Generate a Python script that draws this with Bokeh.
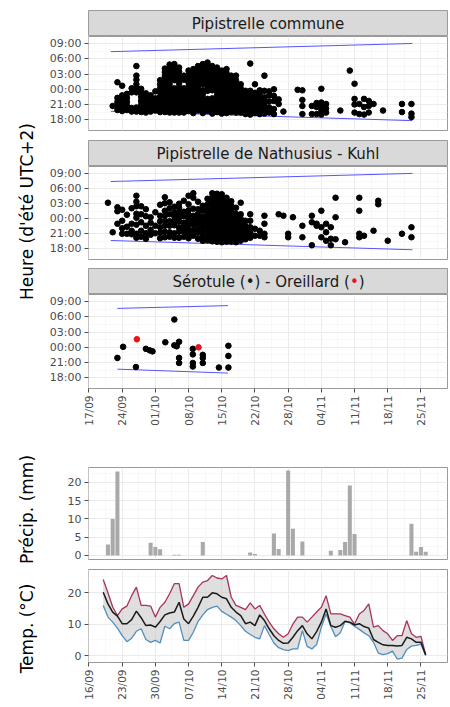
import math
from bokeh.plotting import figure
from bokeh.models import Range1d, FixedTicker, Grid
from bokeh.layouts import column, row
from bokeh.embed import file_html
from bokeh.resources import INLINE
from bokeh.core.properties import value

# ---------------- data ----------------
tick_days = [0, 7, 14, 21, 28, 35, 42, 49, 56, 63, 70]
top_tick_labels = ["17/09", "24/09", "01/10", "08/10", "15/10", "22/10",
                   "28/10", "04/11", "11/11", "18/11", "25/11"]
bottom_tick_labels = ["16/09", "23/09", "30/09", "07/10", "14/10", "21/10",
                      "28/10", "04/11", "11/11", "18/11", "25/11"]
hour_ticks = [18, 21, 24, 27, 30, 33]
hour_labels = ["18:00", "21:00", "00:00", "03:00", "06:00", "09:00"]

strip_titles = ["Pipistrelle commune", "Pipistrelle de Nathusius - Kuhl"]
strip3_parts = ["Sérotule (•) - Oreillard (", "•", ")"]
y_titles = ["Heure (d'été UTC+2)", "Précip. (mm)", "Temp. (°C)"]

# sunset / sunrise (hours, 24 = midnight)
sun_days = [4.6, 68.2]
sunset_h = [19.65, 17.8]
sunrise_h = [31.45, 33.07]
sun_days_p3 = [6.0, 29.3]
sunset_h_p3 = [19.68, 18.9]
sunrise_h_p3 = [31.7, 32.25]

# Pipistrelle commune: night (day index) -> detection hours
pc_nights = [5, 6, 7, 8, 9, 10, 11, 12, 13, 14, 15, 16, 17, 18, 19, 20, 21, 22, 23, 24,
             25, 26, 27, 28, 29, 30, 31, 32, 33, 34, 35, 36, 37, 38, 39, 40, 41, 44, 45, 47,
             48, 49, 50, 53, 55, 56, 57, 58, 59, 60, 62, 66, 68]
pc_times = [
    [20.7],
    [25.4, 22.3, 21.5, 20.6, 19.9],
    [24.7, 22.8, 22.0, 21.2, 20.4, 19.7],
    [23.1, 22.3, 21.5, 20.7, 19.9],
    [24.2, 23.4, 20.3, 19.6],
    [28.6, 26.7, 25.9, 25.0, 24.2, 23.4, 20.4, 19.6],
    [24.1, 23.3, 22.5, 21.7, 20.9, 20.1, 19.5],
    [23.2, 22.4, 21.6, 20.8, 20.0, 19.4],
    [22.8, 22.0, 21.2, 20.4, 19.6],
    [23.6, 22.2, 21.4, 20.6, 19.8],
    [25.8, 25.0, 24.2, 23.4, 22.6, 21.8, 21.0, 20.2, 19.5],
    [28.1, 27.4, 26.6, 25.8, 25.0, 24.2, 23.4, 22.6, 21.8, 21.0, 20.2, 19.5],
    [28.9, 28.2, 27.4, 26.6, 25.8, 25.0, 24.2, 23.4, 22.6, 21.8, 21.0, 20.2, 19.4],
    [29.0, 28.2, 27.4, 26.6, 25.8, 24.2, 23.4, 22.6, 21.8, 21.0, 20.2, 19.4],
    [28.3, 27.5, 26.7, 25.9, 25.1, 24.3, 23.5, 22.7, 21.9, 21.1, 20.3, 19.4],
    [26.7, 25.9, 24.2, 23.4, 22.6, 21.8, 21.0, 20.2, 19.4],
    [27.7, 26.9, 26.1, 25.3, 24.5, 23.7, 22.9, 22.1, 21.3, 20.5, 19.7],
    [28.0, 27.2, 26.4, 25.6, 24.8, 24.0, 23.2, 22.4, 21.6, 20.8, 20.0, 19.3],
    [28.6, 27.8, 27.0, 26.2, 25.4, 24.6, 23.8, 23.0, 22.2, 21.4, 20.6, 19.8],
    [29.0, 28.2, 27.4, 26.6, 25.8, 25.0, 23.8, 23.0, 22.2, 21.4, 20.6, 19.8, 19.3],
    [29.3, 28.5, 27.7, 26.9, 26.1, 25.3, 24.5, 23.7, 22.1, 21.3, 20.5, 19.7],
    [28.6, 27.8, 27.0, 26.2, 25.4, 24.6, 23.8, 22.2, 21.4, 20.6, 19.8, 19.2],
    [28.3, 27.5, 26.7, 25.9, 25.1, 24.3, 23.5, 22.7, 21.9, 21.1, 20.3, 19.5],
    [27.7, 26.9, 26.1, 25.3, 24.5, 23.7, 22.9, 22.1, 21.3, 20.5, 19.7, 19.2],
    [28.0, 27.2, 26.4, 25.6, 24.8, 24.0, 23.2, 22.4, 21.6, 20.8, 20.0, 19.3],
    [26.7, 25.9, 25.1, 24.3, 23.5, 22.7, 21.9, 21.1, 20.3, 19.5],
    [26.7, 25.8, 25.0, 24.2, 23.4, 22.6, 21.8, 21.0, 20.2, 19.4],
    [25.0, 24.2, 23.4, 22.6, 21.8, 21.0, 20.2, 19.4],
    [23.7, 22.9, 22.1, 21.3, 20.5, 19.7, 19.1],
    [29.1, 23.7, 22.9, 22.1, 21.3, 20.5, 19.7, 19.0],
    [25.0, 23.3, 22.5, 21.7, 20.9, 20.1, 19.3],
    [23.8, 23.0, 22.2, 21.4, 20.6, 19.8, 19.1],
    [26.7, 23.7, 22.4, 21.6, 20.8, 20.0, 19.2],
    [23.6, 22.8, 21.6, 20.4, 19.4],
    [24.0, 22.7, 21.7, 20.1, 19.1],
    [22.0, 21.1],
    [19.6],
    [23.9],
    [23.8, 21.9, 20.7, 19.1],
    [20.7, 19.1],
    [21.3, 20.5, 19.1],
    [24.1, 21.4, 20.6, 19.8, 19.0],
    [21.1, 20.2, 19.4],
    [19.8],
    [27.7],
    [25.1, 22.1, 21.0, 19.4],
    [21.1, 19.1],
    [22.1, 20.5, 19.0],
    [21.7, 20.7, 19.4],
    [21.1],
    [19.8],
    [21.1, 19.5],
    [21.1, 19.2, 18.5],
]

# Pipistrelle de Nathusius - Kuhl
pn_nights = [4, 5, 6, 7, 8, 9, 10, 11, 12, 13, 14, 15, 16, 17, 18, 19, 20, 21, 22, 23,
             24, 25, 26, 27, 28, 29, 30, 31, 32, 33, 34, 35, 36, 37, 40, 41, 42, 43, 45, 47,
             48, 49, 50, 51, 52, 54, 57, 58, 60, 61, 63, 66, 68]
pn_times = [
    [27.2],
    [21.3],
    [26.3, 25.5, 23.0],
    [25.8, 23.6, 22.1, 21.0],
    [24.8, 22.4, 21.0],
    [26.1, 23.0, 21.6, 20.9],
    [28.6, 27.4, 26.5, 25.0, 24.2, 22.8, 21.0, 20.2],
    [26.5, 24.9, 23.3, 21.6, 20.4],
    [25.9, 24.5, 22.6, 21.1, 20.0],
    [24.3, 23.2, 21.8, 20.8],
    [25.3, 22.6, 21.1],
    [26.8, 24.6, 23.5, 22.3, 21.2, 20.1],
    [28.3, 27.1, 25.6, 24.6, 23.6, 22.6, 21.4, 20.3],
    [27.3, 26.1, 24.9, 23.5, 22.6, 21.3, 20.4],
    [26.4, 25.3, 24.5, 23.6, 22.7, 21.1, 20.2],
    [27.0, 26.2, 25.2, 24.2, 23.4, 22.2, 21.4, 20.2],
    [27.6, 25.4, 24.5, 23.2, 22.4, 21.5, 20.4],
    [28.6, 26.9, 25.7, 24.8, 23.8, 22.9, 21.9, 21.0, 20.1],
    [29.1, 28.2, 26.0, 24.6, 23.7, 22.8, 21.7, 20.6],
    [27.4, 25.9, 25.0, 24.0, 23.1, 22.0, 21.2, 20.0],
    [26.6, 25.6, 24.4, 23.4, 22.4, 21.5, 20.5, 19.6],
    [28.0, 26.9, 25.9, 25.0, 24.1, 23.2, 22.3, 21.4, 20.5, 19.7],
    [29.1, 28.3, 27.5, 26.7, 25.9, 25.1, 24.3, 23.5, 22.7, 21.9, 21.1, 20.3, 19.5],
    [29.0, 28.2, 27.4, 26.6, 25.8, 25.0, 24.2, 23.4, 22.6, 21.8, 21.0, 20.2, 19.4],
    [28.9, 28.1, 27.3, 26.5, 25.7, 24.9, 24.1, 23.3, 22.5, 21.7, 20.9, 20.1, 19.3],
    [28.2, 27.4, 26.6, 25.8, 25.0, 24.2, 23.4, 22.6, 21.8, 21.0, 20.2, 19.4],
    [27.5, 26.6, 25.8, 25.0, 24.2, 23.4, 22.6, 21.8, 21.0, 20.2, 19.4],
    [26.2, 25.0, 24.2, 23.4, 22.6, 21.8, 21.0, 20.2, 19.3],
    [27.2, 24.9, 24.0, 23.1, 22.2, 21.3, 20.4, 19.6],
    [23.6, 22.6, 21.6, 20.8, 19.9],
    [24.9, 23.6, 22.3, 21.2, 20.2],
    [22.0, 20.6],
    [21.6, 20.6],
    [24.6, 23.0, 21.0, 20.3],
    [24.9],
    [24.6],
    [21.0, 20.3],
    [24.3],
    [22.6, 20.3],
    [24.6, 23.3, 18.7],
    [23.0, 22.6],
    [25.6, 22.3, 20.3],
    [23.0, 21.3, 19.6],
    [22.3, 20.0, 18.7],
    [28.2, 24.3, 19.9],
    [19.3],
    [28.2, 25.6, 21.0, 20.3],
    [20.6],
    [21.6],
    [27.6, 26.9],
    [19.6],
    [21.0],
    [22.3, 20.3],
]

# Sérotule (black) and Oreillard (red)
sero_day = [6.0, 7.2, 9.9, 12.0, 12.8, 13.4, 16.1, 18.0, 18.0, 18.5, 19.0, 19.0, 19.0,
            21.9, 21.9, 21.9, 21.9, 24.0, 24.0, 24.0, 27.4, 29.4, 29.4, 29.4]
sero_hour = [21.9, 24.1, 20.1, 23.7, 23.4, 23.2, 25.0, 29.5, 24.4, 24.2, 25.1, 21.9, 20.9,
             23.7, 22.6, 20.9, 20.2, 22.5, 21.9, 20.9, 20.0, 24.3, 22.3, 20.0]
oreil_day = [10.1, 23.1]
oreil_hour = [25.6, 24.0]

# Weather (day index from 16/09)
precip_days = [4, 5, 6, 13, 14, 15, 18, 19, 24, 34, 35, 39, 40, 42, 43, 45,
               51, 53, 54, 55, 56, 68, 69, 70, 71]
precip_mm = [3.0, 10.0, 23.0, 3.5, 2.3, 1.7, 0.2, 0.2, 3.7, 0.8, 0.4, 6.0, 1.8, 23.3, 7.3, 3.8,
             1.3, 1.5, 3.7, 19.2, 5.9, 8.7, 1.0, 2.3, 1.0]

temp_days = list(range(3, 72))
tmax = [24.1, 19.9, 15.4, 12.7, 14.8, 15.7, 19.0, 21.7, 15.9, 15.9,
        15.7, 12.2, 15.3, 16.9, 19.6, 22.8, 22.8, 15.3, 16.4, 19.0,
        21.7, 23.3, 23.8, 25.4, 24.6, 24.3, 25.4, 18.5, 15.9, 15.3,
        14.6, 16.7, 14.8, 15.9, 13.2, 10.6, 8.5, 6.9, 5.8, 6.9,
        10.0, 12.2, 12.2, 10.6, 12.2, 13.8, 15.3, 19.0, 13.2, 13.2,
        13.2, 12.7, 12.2, 10.0, 13.2, 14.3, 16.4, 9.0, 9.5, 7.9,
        6.9, 4.8, 6.3, 6.3, 11.1, 6.9, 5.8, 6.1, 0.3]
tmean = [20.1, 16.4, 13.8, 12.5, 10.1, 10.1, 11.4, 14.1, 12.0, 9.5,
         9.7, 9.0, 10.8, 12.9, 13.5, 13.8, 16.9, 11.6, 10.1, 12.5,
         15.3, 18.5, 18.5, 19.9, 19.6, 18.5, 18.0, 15.3, 13.8, 12.7,
         10.1, 10.6, 9.5, 12.9, 11.1, 8.5, 6.3, 4.8, 3.9, 4.0,
         5.8, 7.9, 9.5, 6.9, 5.3, 7.6, 10.6, 14.8, 9.5, 9.0,
         9.5, 10.9, 10.6, 9.7, 10.1, 9.2, 8.7, 5.1, 4.2, 3.4,
         3.2, 3.2, 3.0, 3.2, 5.8, 5.3, 4.2, 4.2, 0.2]
tmin = [15.9, 12.2, 10.6, 8.7, 6.3, 4.4, 5.5, 7.7, 8.5, 5.1,
        4.2, 4.8, 4.0, 9.3, 8.5, 10.1, 10.6, 4.8, 4.8, 7.4,
        10.8, 12.9, 14.6, 15.3, 15.7, 14.0, 13.1, 12.2, 11.1, 9.5,
        7.7, 6.7, 5.8, 5.3, 9.5, 6.7, 4.0, 2.5, 1.9, 1.6,
        2.1, 2.1, 7.9, 2.9, 2.1, 3.5, 9.0, 13.2, 9.2, 6.0,
        7.2, 10.8, 10.4, 9.3, 8.3, 7.2, 6.3, 4.2, 0.8, 0.3,
        0.6, 1.4, -1.1, -0.8, 1.9, 3.0, 3.2, 3.6, 0.0]
precip_ticks = [0, 5, 10, 15, 20]
temp_ticks = [0, 10, 20]

# ---------------- style ----------------
FONT = "DejaVu Sans"
FW = 359
TITLE_W = 40
LEFT = 48
TOTAL_H = 702
BORDER = "#9a9a9a"
GRID = "#ebebeb"
GRID_MINOR = "#f5f5f5"
TICK_COL = "#4d4d4d"
X0, X1 = -0.1, 75.6
Y0, Y1 = 15.85, 34.45
DOT = 5.6
minor_days = [d + 3.5 for d in tick_days]


def flatten(nights, times):
    xs, ys = [], []
    for d, hs in zip(nights, times):
        for h in hs:
            xs.append(d)
            ys.append(h)
    return xs, ys


def style_axis(ax, size="11px"):
    ax.axis_line_color = None
    ax.major_tick_line_color = TICK_COL
    ax.major_tick_out = 4
    ax.major_tick_in = 0
    ax.minor_tick_line_color = None
    ax.major_label_text_font = FONT
    ax.major_label_text_font_size = size
    ax.major_label_text_color = TICK_COL
    ax.major_label_standoff = 3


def base_fig(fh, yr, ticks_y, minor_y, top=0, bottom=0, xaxis=False):
    p = figure(frame_width=FW, frame_height=fh, x_range=Range1d(X0, X1), y_range=yr,
               toolbar_location=None, output_backend="svg",
               x_axis_location="below" if xaxis else None, y_axis_location="left",
               min_border=0, min_border_left=LEFT, min_border_right=2,
               min_border_top=top, min_border_bottom=bottom)
    p.center = [r for r in p.center if not isinstance(r, Grid)]
    p.background_fill_color = "white"
    p.border_fill_color = "white"
    p.outline_line_color = BORDER
    p.outline_line_width = 1
    p.add_layout(Grid(dimension=0, ticker=FixedTicker(ticks=tick_days, minor_ticks=minor_days),
                      grid_line_color=GRID, grid_line_width=1,
                      minor_grid_line_color=GRID_MINOR, minor_grid_line_width=0.7), "center")
    p.add_layout(Grid(dimension=1, ticker=FixedTicker(ticks=ticks_y, minor_ticks=minor_y),
                      grid_line_color=GRID, grid_line_width=1,
                      minor_grid_line_color=GRID_MINOR, minor_grid_line_width=0.7), "center")
    ax = p.yaxis[0]
    ax.ticker = FixedTicker(ticks=ticks_y)
    style_axis(ax)
    return p


def strip_fig(top=0):
    s = figure(frame_width=FW, frame_height=26, x_range=Range1d(0, FW), y_range=Range1d(0, 26),
               toolbar_location=None, output_backend="svg",
               x_axis_location=None, y_axis_location=None,
               min_border=0, min_border_left=LEFT, min_border_right=2,
               min_border_top=top, min_border_bottom=0)
    s.center = [r for r in s.center if not isinstance(r, Grid)]
    s.background_fill_color = "#d9d9d9"
    s.border_fill_color = "white"
    s.outline_line_color = BORDER
    return s


def strip_text(s, x, txt, align="center", color="#1a1a1a"):
    s.text(x=[x], y=[13], text=[txt], text_align=align, text_baseline="middle",
           text_font=value(FONT), text_font_size="15px", text_color=color)


hour_minor = [h + 1.5 for h in hour_ticks[:-1]]

# ---- strip 1 + panel 1 ----
s1 = strip_fig(top=10)
strip_text(s1, FW / 2, strip_titles[0])

p1 = base_fig(94, Range1d(Y0, Y1), hour_ticks, hour_minor, bottom=10)
p1.yaxis[0].major_label_overrides = dict(zip(hour_ticks, hour_labels))
p1.line(sun_days, sunrise_h, line_color="#5555ff", line_width=1)
p1.line(sun_days, sunset_h, line_color="#5555ff", line_width=1)
x1, y1 = flatten(pc_nights, pc_times)
p1.scatter(x1, y1, size=DOT, color="black")

# ---- strip 2 + panel 2 ----
s2 = strip_fig()
strip_text(s2, FW / 2, strip_titles[1])

p2 = base_fig(93, Range1d(Y0, Y1), hour_ticks, hour_minor, bottom=9)
p2.yaxis[0].major_label_overrides = dict(zip(hour_ticks, hour_labels))
p2.line(sun_days, sunrise_h, line_color="#5555ff", line_width=1)
p2.line(sun_days, sunset_h, line_color="#5555ff", line_width=1)
x2, y2 = flatten(pn_nights, pn_times)
p2.scatter(x2, y2, size=DOT, color="black")

# ---- strip 3 + panel 3 ----
s3 = strip_fig()
SPLIT = 261.4
strip_text(s3, SPLIT, strip3_parts[0], align="right")
strip_text(s3, SPLIT, strip3_parts[1], align="left", color="#e8141c")
strip_text(s3, SPLIT + 8.9, strip3_parts[2], align="left")

p3 = base_fig(94, Range1d(Y0, Y1), hour_ticks, hour_minor, bottom=79, xaxis=True)
p3.yaxis[0].major_label_overrides = dict(zip(hour_ticks, hour_labels))
p3.line(sun_days_p3, sunrise_h_p3, line_color="#5555ff", line_width=1)
p3.line(sun_days_p3, sunset_h_p3, line_color="#5555ff", line_width=1)
p3.scatter(sero_day, sero_hour, size=DOT, color="black")
p3.scatter(oreil_day, oreil_hour, size=DOT, color="#e8141c")
xa = p3.xaxis[0]
xa.ticker = FixedTicker(ticks=tick_days)
xa.major_label_overrides = dict(zip(tick_days, top_tick_labels))
style_axis(xa, size="10.5px")
xa.major_label_orientation = math.pi / 2

# ---- precipitation ----
pp = base_fig(92, Range1d(-1.1, 24.1), precip_ticks, [2.5, 7.5, 12.5, 17.5, 22.5], bottom=10)
pp.vbar(x=precip_days, top=precip_mm, bottom=0, width=0.85,
        fill_color="#a9a9a9", line_color=None)

# ---- temperature ----
pt = base_fig(93, Range1d(-2.2, 27.3), temp_ticks, [5, 15, 25], bottom=40, xaxis=True)
pt.varea(x=temp_days, y1=tmin, y2=tmax, fill_color="#c4c4c4", fill_alpha=0.55)
pt.line(temp_days, tmin, line_color="#4f8fbf", line_width=1.3)
pt.line(temp_days, tmax, line_color="#a8325a", line_width=1.3)
pt.line(temp_days, tmean, line_color="#1a1a1a", line_width=1.5)
xb = pt.xaxis[0]
xb.ticker = FixedTicker(ticks=tick_days)
xb.major_label_overrides = dict(zip(tick_days, bottom_tick_labels))
style_axis(xb, size="10.5px")
xb.major_label_orientation = math.pi / 2

# ---- left column holding the rotated y titles ----
tf = figure(width=TITLE_W, height=TOTAL_H, x_range=Range1d(0, TITLE_W), y_range=Range1d(0, TOTAL_H),
            toolbar_location=None, output_backend="svg",
            x_axis_location=None, y_axis_location=None, min_border=0)
tf.center = [r for r in tf.center if not isinstance(r, Grid)]
tf.outline_line_color = None
tf.background_fill_color = "white"
tf.border_fill_color = "white"
title_centres_y = [TOTAL_H - 211, TOTAL_H - 509, TOTAL_H - 628]
tf.text(x=[26, 26, 26], y=title_centres_y, text=y_titles, angle=math.pi / 2,
        text_align="center", text_baseline="middle",
        text_font=value(FONT), text_font_size="17px", text_color="black")

layout = row(tf, column(s1, p1, s2, p2, s3, p3, pp, pt, spacing=0), spacing=0)
open("out.html", "w").write(file_html(layout, INLINE, title="Chiroptères"))
